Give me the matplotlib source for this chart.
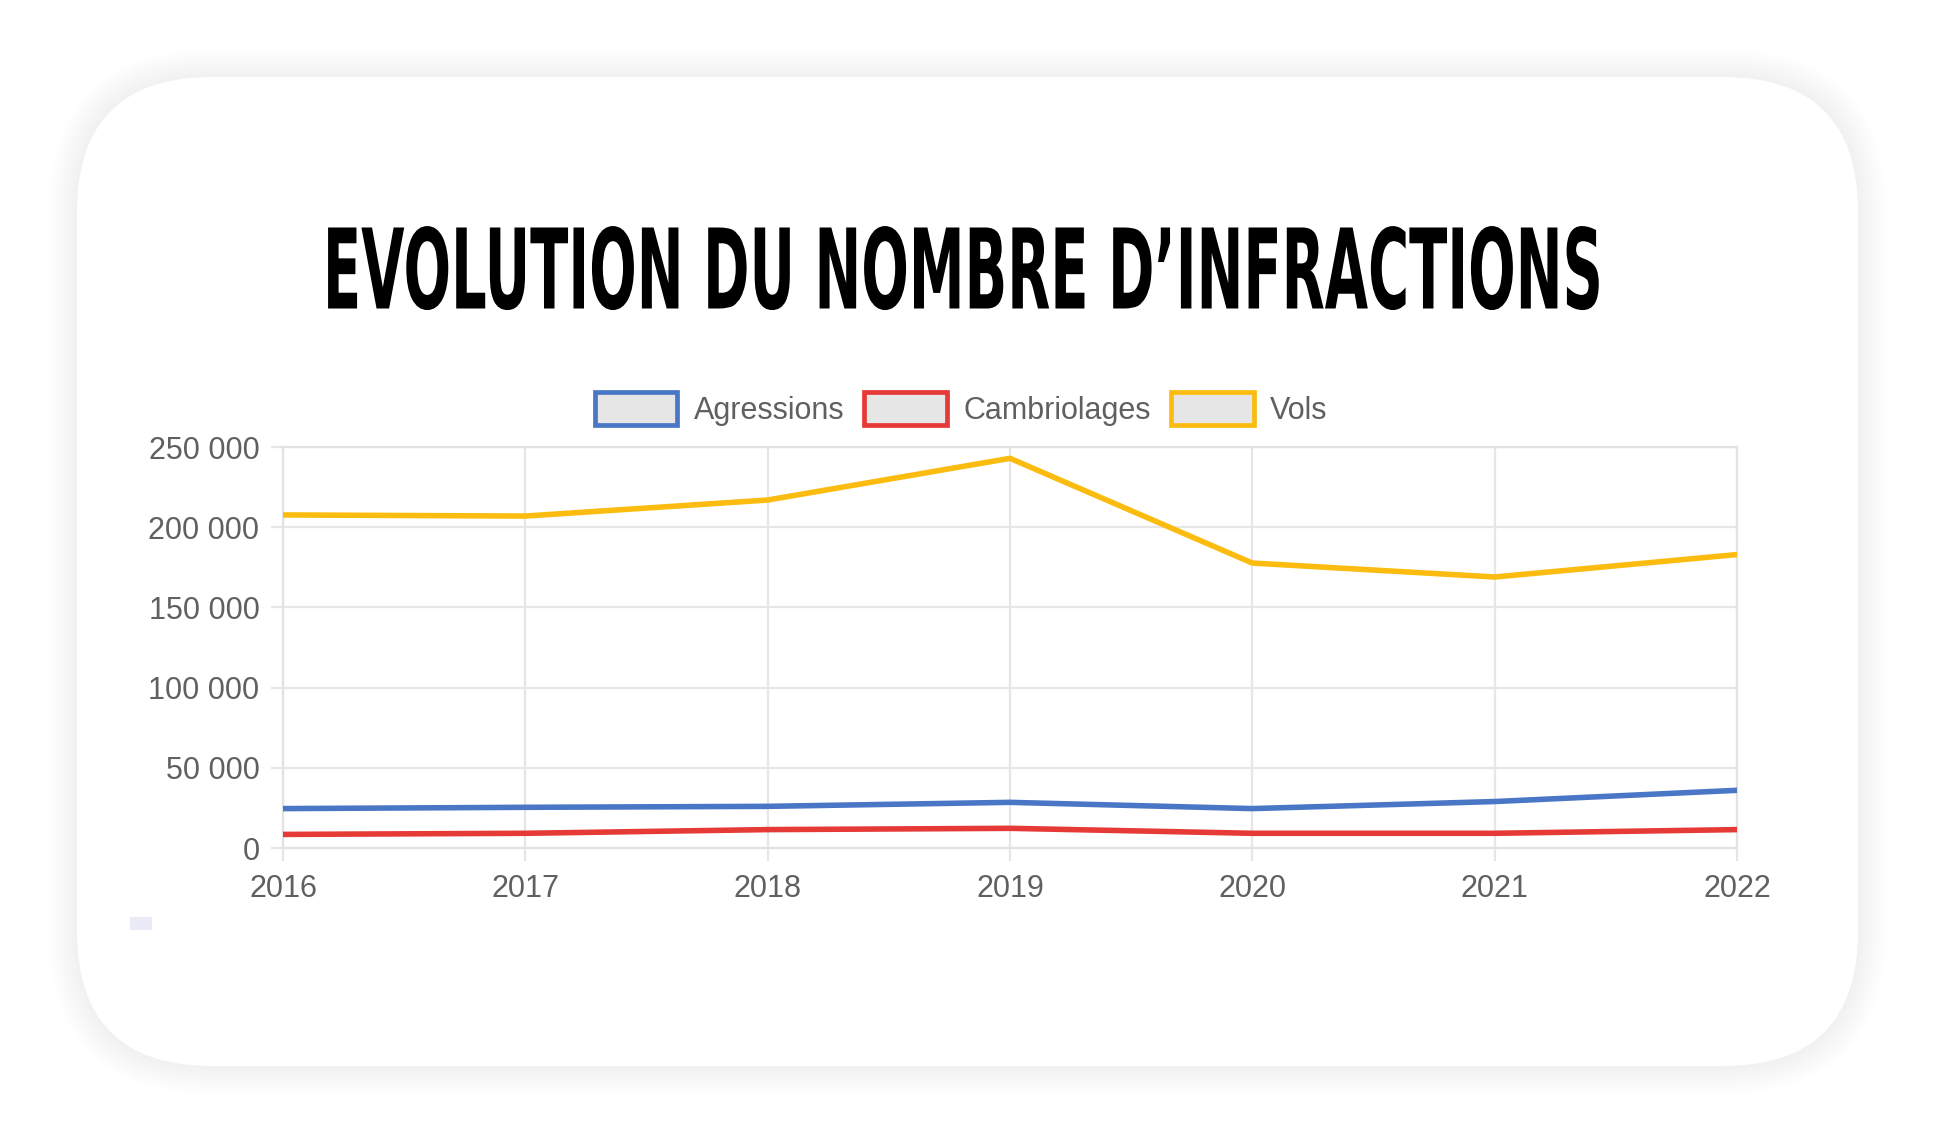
import matplotlib
matplotlib.use("Agg")
import matplotlib.pyplot as plt
from matplotlib.patches import FancyBboxPatch, Rectangle, Patch
from matplotlib.ticker import FuncFormatter
from matplotlib.patheffects import AbstractPathEffect
from matplotlib.transforms import Affine2D

# ---- data ----
years = [2016, 2017, 2018, 2019, 2020, 2021, 2022]
agressions = [24600, 25400, 26000, 28500, 24600, 29000, 36000]
cambriolages = [8500, 9200, 11500, 12300, 9200, 9200, 11500]
vols = [207700, 207000, 217000, 243000, 177700, 169000, 183000]
series_names = ["Agressions", "Cambriolages", "Vols"]
series_colors = ["#4a76c6", "#e53a35", "#fbbc0f"]
y_ticks = [0, 50000, 100000, 150000, 200000, 250000]
title = "EVOLUTION DU NOMBRE D\u2019INFRACTIONS"

W, H = 1936, 1142
fig = plt.figure(figsize=(W / 100, H / 100), dpi=100)
fig.patch.set_facecolor("white")


class Stretch(AbstractPathEffect):
    """Vertically stretch a text around its baseline (display px) to mimic a condensed face."""
    def __init__(self, sy, cx, cy):
        super().__init__()
        self.sy, self.cx, self.cy = sy, cx, cy

    def draw_path(self, renderer, gc, tpath, affine, rgbFace=None):
        t = Affine2D().translate(-self.cx, -self.cy).scale(1.0, self.sy).translate(self.cx, self.cy)
        renderer.draw_path(gc, tpath, affine + t, rgbFace)


# ---- card with soft shadow ----
bg = fig.add_axes([0, 0, 1, 1], zorder=0)
bg.set_xlim(0, W)
bg.set_ylim(H, 0)
bg.axis("off")
cx0, cy0, cx1, cy1 = 77, 77, 1858, 1066
rad = 135
for i in range(14, 0, -1):
    g = i * 4
    bg.add_patch(FancyBboxPatch((cx0 - g * 0.5, cy0 - g * 0.5), (cx1 - cx0) + g, (cy1 - cy0) + g,
                                boxstyle=f"round,pad=0,rounding_size={rad + g * 0.5}",
                                fc="#000000", ec="none", alpha=0.004))
bg.add_patch(FancyBboxPatch((cx0, cy0), cx1 - cx0, cy1 - cy0,
                            boxstyle=f"round,pad=0,rounding_size={rad}",
                            fc="white", ec="none"))
bg.add_patch(Rectangle((130, 917), 22, 13, fc="#ebebf7", ec="none"))

# ---- title (condensed look via vertical stretch) ----
title_cx, title_cy = 963, 268          # centre in px (from top)
cap_px, width_px = 81, 1280
baseline_y = title_cy + cap_px / 2     # from top
t = fig.text(title_cx / W, 1 - baseline_y / H, title, ha="center", va="baseline",
             family="DejaVu Sans", weight="bold", fontsize=60, color="black", zorder=5)
fig.canvas.draw()
bb = t.get_window_extent()
fs = 60 * width_px / bb.width
t.set_fontsize(fs)
sy = cap_px / (0.729 * fs * 100 / 72)
t.set_path_effects([Stretch(sy, title_cx, H - baseline_y)])

# ---- chart ----
ax = fig.add_axes([0.1462, 0.2574, 0.7510, 0.3511], zorder=2)
ax.set_facecolor("none")
lines = [agressions, cambriolages, vols]
for name, vals, col in zip(series_names, lines, series_colors):
    ax.plot(years, vals, color=col, lw=4.0, solid_joinstyle="round", label=name, zorder=3)

ax.set_xlim(years[0], years[-1])
ax.set_ylim(0, 250000)
ax.set_xticks(years)
ax.set_yticks(y_ticks)
ax.yaxis.set_major_formatter(FuncFormatter(lambda v, p: f"{int(v):,}".replace(",", " ")))
ax.grid(True, color="#e6e6e6", lw=1.6)
for s in ax.spines.values():
    s.set_color("#e2e2e2")
    s.set_linewidth(1.6)
ax.tick_params(axis="both", length=9, width=1.6, color="#e6e6e6",
               labelcolor="#606060", labelsize=22, labelfontfamily="Liberation Sans")
ax.tick_params(axis="y", pad=8)
ax.tick_params(axis="x", pad=10)

handles = [Patch(facecolor="#e6e6e6", edgecolor=c, linewidth=3.4) for c in series_colors]
leg = fig.legend(handles, series_names, loc="center", bbox_to_anchor=(0.4965, 0.6419),
                 ncol=3, frameon=False, handlelength=2.7, handleheight=1.25,
                 handletextpad=0.55, columnspacing=0.65,
                 prop={"family": "Liberation Sans", "size": 22})
for txt in leg.get_texts():
    txt.set_color("#606060")

fig.savefig("out.png", dpi=100, facecolor="white")
